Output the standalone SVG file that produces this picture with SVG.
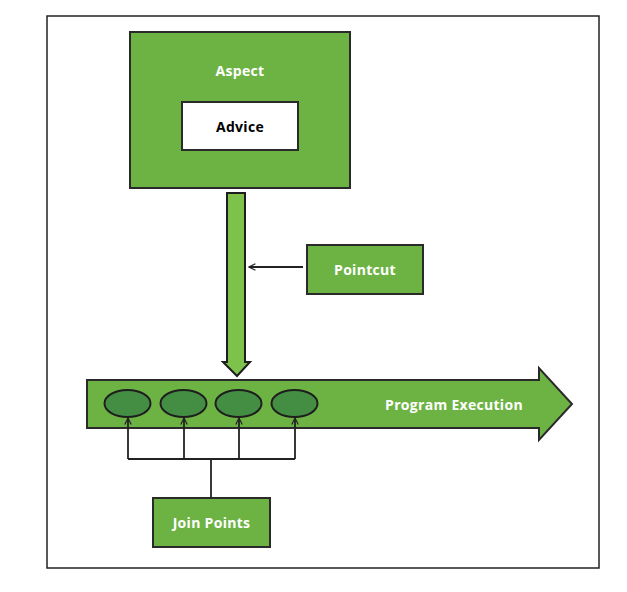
<svg xmlns="http://www.w3.org/2000/svg" width="627" height="592" viewBox="0 0 627 592">
<defs>
<style>
.frame{fill:#fff;stroke:#222;stroke-width:1.5}
.box{fill:#6db344;stroke:#2a2a2a;stroke-width:2}
.wbox{fill:#fff;stroke:#2a2a2a;stroke-width:2}
.dot{fill:#448e44;stroke:#1e1e1e;stroke-width:2}
.line{fill:none;stroke:#222;stroke-width:1.8}
.t{font-family:"Open Sans","Liberation Sans",sans-serif;font-weight:700;font-size:14px;letter-spacing:0.3px;text-anchor:middle;dominant-baseline:central}
.tw{fill:#fff}
.tb{fill:#000}
</style>
<marker id="open" viewBox="0 0 10 10" refX="9" refY="5" markerWidth="8" markerHeight="8" orient="auto" markerUnits="userSpaceOnUse">
<path d="M1,1 L9,5 L1,9" fill="none" stroke="#222" stroke-width="1.5"/>
</marker>
</defs>
<rect class="frame" x="47" y="16" width="552" height="552"/>
<g id="aspect">
<rect class="box" x="130" y="32" width="220" height="156"/>
<text class="t tw" x="240" y="70">Aspect</text>
</g>
<g id="advice">
<rect class="wbox" x="182" y="102" width="116" height="48"/>
<text class="t tb" x="240" y="126">Advice</text>
</g>
<g id="flow-arrow">
<path d="M227,193 L245,193 L245,362 L250,362 L237,376 L223,362 L227,362 Z" fill="#7dc24a" stroke="#1e1e1e" stroke-width="2"/>
</g>
<g id="pointcut">
<rect class="box" x="307" y="245" width="116" height="49"/>
<text class="t tw" x="365" y="269">Pointcut</text>
</g>
<g id="program-execution">
<path d="M87,380 L539,380 L539,368 L572,404 L539,440 L539,428 L87,428 Z" class="box"/>
<text class="t tw" x="454" y="404">Program Execution</text>
</g>
<g id="jp1"><ellipse class="dot" cx="127.5" cy="403.5" rx="23" ry="13.5"/></g>
<g id="jp2"><ellipse class="dot" cx="183.5" cy="403.5" rx="23" ry="13.5"/></g>
<g id="jp3"><ellipse class="dot" cx="238.5" cy="403.5" rx="23" ry="13.5"/></g>
<g id="jp4"><ellipse class="dot" cx="294.5" cy="403.5" rx="23" ry="13.5"/></g>
<g id="join-points">
<rect class="box" x="153" y="498" width="117" height="49"/>
<text class="t tw" x="211.5" y="522">Join Points</text>
</g>
<g id="connectors">
<line class="line" x1="303" y1="267" x2="249" y2="267" marker-end="url(#open)"/>
<line class="line" x1="211" y1="498" x2="211" y2="459"/>
<line class="line" x1="128" y1="459" x2="295" y2="459"/>
<line class="line" x1="128" y1="459" x2="128" y2="418" marker-end="url(#open)"/>
<line class="line" x1="184" y1="459" x2="184" y2="418" marker-end="url(#open)"/>
<line class="line" x1="239" y1="459" x2="239" y2="418" marker-end="url(#open)"/>
<line class="line" x1="295" y1="459" x2="295" y2="418" marker-end="url(#open)"/>
</g>
</svg>
